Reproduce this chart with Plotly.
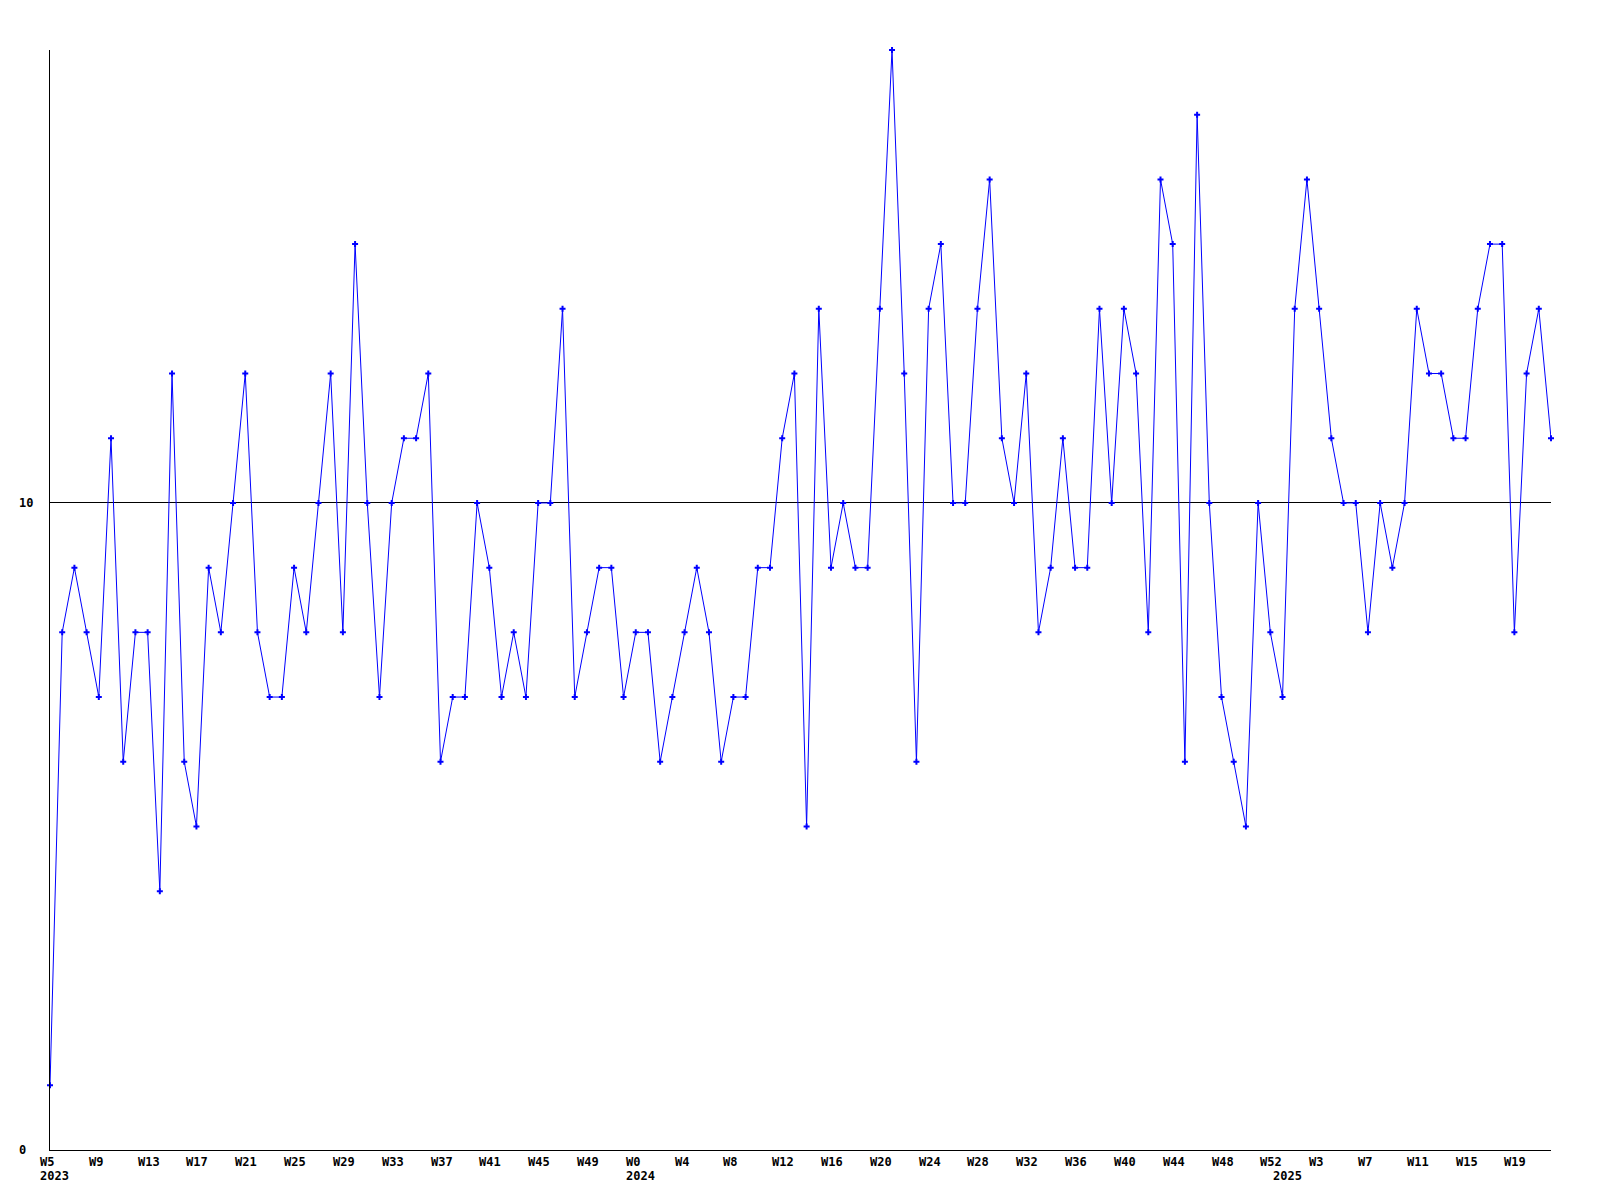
import plotly.graph_objects as go

# weekly values, 2023 W5 .. 2025 W22
values_2023 = [1, 8, 9, 8, 7, 11, 6, 8, 8, 4, 12, 6, 5, 9, 8, 10, 12, 8, 7, 7,
               9, 8, 10, 12, 8, 14, 10, 7, 10, 11, 11, 12, 6, 7, 7, 10, 9, 7, 8, 7,
               10, 10, 13, 7, 8, 9, 9, 7]
values_2024 = [8, 8, 6, 7, 8, 9, 8, 6, 7, 7, 9, 9, 11, 12, 5, 13, 9, 10, 9, 9,
               13, 17, 12, 6, 13, 14, 10, 10, 13, 15, 11, 10, 12, 8, 9, 11, 9, 9, 13, 10,
               13, 12, 8, 15, 14, 6, 16, 10, 7, 6, 5, 10, 8]
values_2025 = [7, 13, 15, 13, 11, 10, 10, 8, 10, 9, 10, 13, 12, 12, 11, 11, 13, 14, 14, 8,
               12, 13, 11]

weeks_2023 = list(range(5, 53))
weeks_2024 = list(range(0, 53))
weeks_2025 = list(range(0, 23))

years = [2023] * len(weeks_2023) + [2024] * len(weeks_2024) + [2025] * len(weeks_2025)
weeks = weeks_2023 + weeks_2024 + weeks_2025
values = values_2023 + values_2024 + values_2025
x = list(range(len(values)))

y_ticks = [0, 10]

font = dict(family="DejaVu Sans Mono", size=12, color="black", weight="bold")

annotations = []
for i in x:
    if i % 4 == 0:
        annotations.append(dict(
            x=i, xref="x", y=0, yref="paper", text=f"W{weeks[i]}", showarrow=False,
            xanchor="left", yanchor="middle", xshift=-12, yshift=-12, font=font))
    if i == 0 or years[i] != years[i - 1]:
        annotations.append(dict(
            x=i, xref="x", y=0, yref="paper", text=str(years[i]), showarrow=False,
            xanchor="left", yanchor="middle", xshift=-12, yshift=-26, font=font))
for v in y_ticks:
    annotations.append(dict(
        x=0, xref="paper", y=v, yref="y", text=str(v), showarrow=False,
        xanchor="left", yanchor="middle", xshift=-33, font=font))

fig = go.Figure()
fig.add_trace(go.Scatter(
    x=x, y=values, mode="lines+markers",
    line=dict(color="#0000ff", width=1),
    marker=dict(symbol="cross", size=5, color="#0000ff", line=dict(width=0)),
    cliponaxis=False, showlegend=False,
))

fig.update_layout(
    width=1584, height=1184,
    margin=dict(l=42, r=41, t=42, b=42, pad=0, autoexpand=False),
    paper_bgcolor="white", plot_bgcolor="white",
    annotations=annotations,
    xaxis=dict(
        range=[0, len(values) - 1], showticklabels=False,
        showgrid=False, zeroline=False, showline=True, linecolor="black", linewidth=1,
        ticks="", automargin=False,
    ),
    yaxis=dict(
        range=[0, 17], tickvals=y_ticks, showticklabels=False,
        showgrid=True, gridcolor="black", gridwidth=1, zeroline=False,
        showline=True, linecolor="black", linewidth=1,
        ticks="", automargin=False,
    ),
)

fig.write_html("out.html")
